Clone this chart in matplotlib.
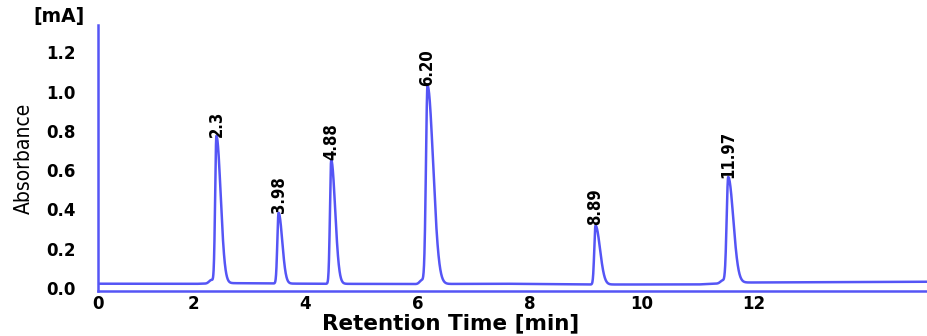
# Cromatograma: absorbancia vs tiempo de retencion
import numpy as np
import matplotlib.pyplot as plt

# Picos: etiqueta, posicion (min), altura (mA), ancho subida, ancho cola
peak_labels = ['2.3', '3.98', '4.88', '6.20', '8.89', '11.97']
peak_pos = [2.41, 3.52, 4.46, 6.18, 9.18, 11.55]
peak_height = [0.75, 0.36, 0.63, 1.01, 0.30, 0.54]
peak_rise = [0.022, 0.022, 0.022, 0.028, 0.022, 0.028]
peak_tail = [0.075, 0.065, 0.07, 0.1, 0.08, 0.09]

# hombros chicos antes de algunos picos
shoulder_pos = [2.32, 6.08, 11.45]
shoulder_height = [0.018, 0.02, 0.015]

# linea base
base_x = [0.3, 2.0, 2.6, 4.0, 6.0, 7.5, 9.0, 11.0, 11.8, 15.1]
base_y = [0.022, 0.021, 0.025, 0.022, 0.02, 0.022, 0.018, 0.018, 0.028, 0.032]

x_ticks = [0.3, 2, 4, 6, 8, 10, 12]
x_ticklabels = ['0', '2', '4', '6', '8', '10', '12']
y_ticks = [0.0, 0.2, 0.4, 0.6, 0.8, 1.0, 1.2]

azul = '#5555f5'
angosta = dict(family='DejaVu Sans', fontstretch='condensed')

t = np.linspace(0.3, 15.1, 6000)
señal = np.interp(t, base_x, base_y)
for p, h, a, b in zip(peak_pos, peak_height, peak_rise, peak_tail):
    s = np.where(t < p, a, b)
    señal = señal + h * np.exp(-0.5 * ((t - p) / s) ** 2)
for p, h in zip(shoulder_pos, shoulder_height):
    señal = señal + h * np.exp(-0.5 * ((t - p) / 0.04) ** 2)

fig = plt.figure(figsize=(9.27, 3.36), dpi=100)
ax = fig.add_axes([0.106, 0.134, 0.894, 0.792])
ax.plot(t, señal, color=azul, lw=1.8)

for lab, p, h in zip(peak_labels, peak_pos, peak_height):
    ax.text(p, h + 0.02, lab, rotation=90, ha='center', va='bottom',
            fontsize=12, fontweight='bold', **angosta)

ax.set_xlim(0.3, 15.1)
ax.set_ylim(-0.015, 1.34)
ax.set_xticks(x_ticks)
ax.set_xticklabels(x_ticklabels)
ax.set_yticks(y_ticks)
ax.set_yticklabels(['%.1f' % v for v in y_ticks])
ax.tick_params(axis='y', length=0, labelsize=12, pad=16)
ax.tick_params(axis='x', length=0, labelsize=12, pad=3)
for lab in ax.get_xticklabels() + ax.get_yticklabels():
    lab.set_fontweight('bold')

for lado in ['top', 'right']:
    ax.spines[lado].set_visible(False)
for lado in ['left', 'bottom']:
    ax.spines[lado].set_color(azul)
    ax.spines[lado].set_linewidth(1.8)

ax.set_xlabel('Retention Time [min]', fontsize=15.5, fontweight='bold')
ax.xaxis.set_label_coords(0.425, -0.085)
ax.set_ylabel('Absorbance', fontsize=15, fontweight='medium', **angosta)
ax.yaxis.set_label_coords(-0.078, 0.5)
fig.text(0.036, 0.952, '[mA]', fontsize=13.5, fontweight='bold', va='center')

fig.savefig('out.png', dpi=100)
